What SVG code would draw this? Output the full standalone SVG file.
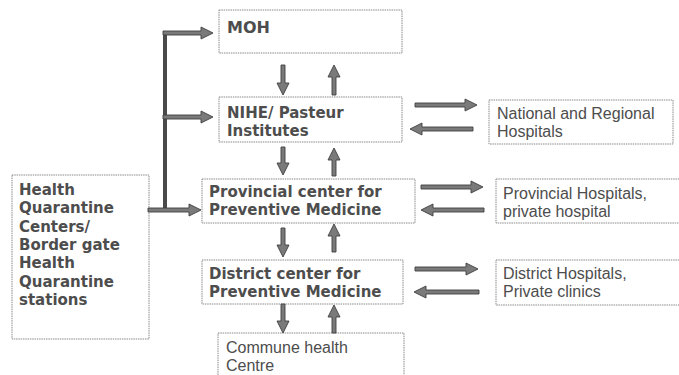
<svg xmlns="http://www.w3.org/2000/svg" width="679" height="375" viewBox="0 0 679 375">
<style>
.box{fill:#fff;stroke:#8a8a8a;stroke-width:1;stroke-dasharray:1.5 0.8}
.b{font-family:"DejaVu Sans",Verdana,sans-serif;font-weight:bold;font-size:15px;fill:#4d4d4d}
.r{font-family:"Liberation Sans",Arial,sans-serif;font-size:16px;fill:#4d4d4d}
.arr{fill:#7a7a7a;stroke:#3f3f3f;stroke-width:0.9;stroke-linejoin:miter}
.ln{fill:none;stroke:#4a4a4a;stroke-width:4}
</style>
<g id="moh"><rect class="box" x="219" y="10" width="183" height="43"/><text class="b" x="227" y="33" style="font-size:16px">MOH</text></g>
<g id="nihe"><rect class="box" x="219" y="97" width="183" height="45"/><text class="b" x="227" y="118">NIHE/ Pasteur</text><text class="b" x="227" y="136">Institutes</text></g>
<g id="provincial"><rect class="box" x="202" y="179" width="213" height="44"/><text class="b" x="209" y="197">Provincial center for</text><text class="b" x="209" y="215">Preventive Medicine</text></g>
<g id="district"><rect class="box" x="202" y="260" width="201" height="44"/><text class="b" x="209" y="279">District center for</text><text class="b" x="209" y="297">Preventive Medicine</text></g>
<g id="commune"><rect class="box" x="218" y="333" width="186" height="50"/><text class="r" x="226" y="353">Commune health</text><text class="r" x="226" y="371">Centre</text></g>
<g id="quarantine"><rect class="box" x="12" y="175" width="137" height="164"/><text class="b" x="19" y="195">Health</text><text class="b" x="19" y="213">Quarantine</text><text class="b" x="19" y="232">Centers/</text><text class="b" x="19" y="250">Border gate</text><text class="b" x="19" y="268">Health</text><text class="b" x="19" y="287">Quarantine</text><text class="b" x="19" y="305">stations</text></g>
<g id="national"><rect class="box" x="489" y="100" width="184" height="44"/><text class="r" x="497" y="119">National and Regional</text><text class="r" x="497" y="137">Hospitals</text></g>
<g id="provhosp"><rect class="box" x="496" y="179" width="190" height="44"/><text class="r" x="503" y="199">Provincial Hospitals,</text><text class="r" x="503" y="217">private hospital</text></g>
<g id="disthosp"><rect class="box" x="496" y="260" width="190" height="45"/><text class="r" x="503" y="279">District Hospitals,</text><text class="r" x="503" y="297">Private clinics</text></g>
<g id="connectors">
<path class="ln" d="M165 210V33"/>
<polygon class="arr" points="163,31 201,31 201,27 213,33 201,39 201,35 163,35"/>
<polygon class="arr" points="163,115 201,115 201,111 213,117 201,123 201,119 163,119"/>
<polygon class="arr" points="148,208 189,208 189,204 201,210 189,216 189,212 148,212"/>
<polygon class="arr" points="281,65 285,65 285,83 289,83 283,95 277,83 281,83"/>
<polygon class="arr" points="336,95 332,95 332,77 328,77 334,65 340,77 336,77"/>
<polygon class="arr" points="281,147 285,147 285,163 289,163 283,175 277,163 281,163"/>
<polygon class="arr" points="336,176 332,176 332,160 328,160 334,148 340,160 336,160"/>
<polygon class="arr" points="281,228 285,228 285,245 289,245 283,257 277,245 281,245"/>
<polygon class="arr" points="336,252 332,252 332,236 328,236 334,224 340,236 336,236"/>
<polygon class="arr" points="281,304 285,304 285,321 289,321 283,333 277,321 281,321"/>
<polygon class="arr" points="336,333 332,333 332,317 328,317 334,305 340,317 336,317"/>
<polygon class="arr" points="415,103 465,103 465,99 477,105 465,111 465,107 415,107"/>
<polygon class="arr" points="473,127 422,127 422,123 410,129 422,135 422,131 473,131"/>
<polygon class="arr" points="421,185 471,185 471,181 483,187 471,193 471,189 421,189"/>
<polygon class="arr" points="484,208 433,208 433,204 421,210 433,216 433,212 484,212"/>
<polygon class="arr" points="415,267 466,267 466,263 478,269 466,275 466,271 415,271"/>
<polygon class="arr" points="479,290 426,290 426,286 414,292 426,298 426,294 479,294"/>
</g>
</svg>
